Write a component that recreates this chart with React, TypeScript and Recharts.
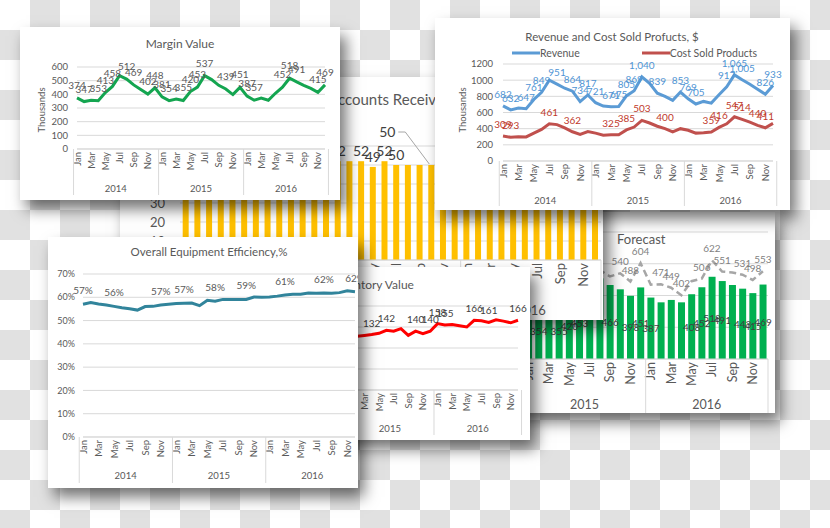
import React from 'react';
import { LineChart, Line, BarChart, Bar, ComposedChart, XAxis, YAxis, CartesianGrid, LabelList } from 'recharts';

const months = ['Jan', 'Feb', 'Mar', 'Apr', 'May', 'Jun', 'Jul', 'Aug', 'Sep', 'Oct', 'Nov', 'Dec'];
const years = ['2014', '2015', '2016'];

// Margin Value, thousands (also the green "actual" bars of the forecast card)
const marginValues = [
  374, 347, 357, 353, 413, 458, 537, 512, 469, 435, 402, 448,
  381, 354, 365, 355, 420, 453, 537, 508, 466, 439, 398, 451,
  387, 357, 372, 357, 408, 452, 518, 491, 466, 443, 415, 469,
];
const marginLabelIdx = [0, 1, 3, 4, 5, 7, 8, 10, 11, 12, 13, 15, 16, 17, 18, 21, 23, 24, 25, 29, 30, 31, 34, 35];
const marginTicks = [0, 100, 200, 300, 400, 500, 600];

// Revenue and cost of sold products, thousands
const revenueValues = [
  682, 632, 655, 647, 761, 849, 1000, 951, 900, 864, 734, 817,
  721, 680, 671, 675, 805, 869, 1040, 960, 839, 800, 750, 853,
  769, 705, 737, 716, 819, 917, 1065, 1005, 950, 889, 826, 933,
];
const revenueLabelIdx = [0, 1, 3, 4, 5, 7, 9, 10, 11, 12, 14, 15, 16, 17, 18, 20, 23, 24, 25, 29, 30, 31, 34, 35];
const costValues = [
  309, 293, 300, 298, 345, 390, 461, 450, 410, 362, 330, 365,
  345, 320, 325, 325, 385, 420, 503, 470, 430, 400, 360, 400,
  380, 345, 350, 359, 416, 460, 547, 514, 480, 440, 411, 465,
];
const costLabelIdx = [0, 1, 6, 9, 14, 16, 18, 21, 27, 28, 30, 31, 33, 34];
const revenueTicks = [0, 200, 400, 600, 800, 1000, 1200];

// Overall equipment efficiency
const oeeValues = [
  0.570, 0.577, 0.571, 0.567, 0.561, 0.555, 0.551, 0.545, 0.560, 0.561, 0.567, 0.570,
  0.573, 0.574, 0.575, 0.564, 0.587, 0.583, 0.591, 0.591, 0.591, 0.591, 0.601, 0.600,
  0.601, 0.605, 0.610, 0.613, 0.613, 0.618, 0.617, 0.618, 0.617, 0.620, 0.628, 0.624,
];
const oeeLabelIdx = [0, 4, 10, 13, 17, 21, 26, 31, 35];
const oeeTicks = [0, 0.1, 0.2, 0.3, 0.4, 0.5, 0.6, 0.7];

// Inventory value
const inventoryValues = [
  118, 120, 117, 121, 124, 126, 128, 125, 123, 126, 124, 128,
  126, 128, 130, 132, 135, 142, 140, 146, 130, 140, 134, 140,
  158, 155, 156, 153, 150, 166, 165, 161, 167, 164, 160, 166,
];
const inventoryLabelIdx = [15, 17, 21, 23, 24, 25, 29, 31, 35];
const inventoryTicks = [0, 50, 100, 150, 200];

// Forecast (dashed) against actual margin (bars)
const forecastValues = [
  420, 400, 405, 400, 460, 500, 580, 560, 510, 480, 450, 490,
  430, 400, 410, 400, 470, 500, 590, 560, 520, 540, 488, 604,
  468, 471, 449, 402, 490, 506, 622, 551, 545, 531, 498, 553,
];
const forecastLabelIdx = [21, 22, 23, 25, 26, 27, 29, 30, 31, 33, 34, 35];
const actualLabelIdx = [13, 15, 16, 17, 20, 22, 23, 24, 28, 29, 30, 31, 33, 34, 35];
const forecastTicks = [0, 200, 400, 600, 800];

// Accounts receivable, days
const receivableValues = [
  54, 53, 55, 52, 54, 53, 51, 53, 52, 50, 52, 51,
  53, 52, 52, 52, 49, 52, 50, 50, 50, 50, 45, 44,
  42, 43, 41, 40, 42, 39, 40, 38, 37, 39, 36, 38,
];
const receivableLabelIdx = [13, 15, 16, 17, 18, 21];
const receivableLeaderIdx = 21;
const receivableTicks = [0, 10, 20, 30, 40, 50, 60];

const FONT = 'Lato, "Open Sans", sans-serif';
const AXIS_TEXT = '#595959';
const GRID = '#d9d9d9';

const keyOf = (i: number) => `${months[i % 12]} ${years[Math.floor(i / 12)]}`;
const marginData = marginValues.map((v, i) => ({ key: keyOf(i), v }));
const revenueData = revenueValues.map((v, i) => ({ key: keyOf(i), revenue: v, cost: costValues[i] }));
const oeeData = oeeValues.map((v, i) => ({ key: keyOf(i), v }));
const inventoryData = inventoryValues.map((v, i) => ({ key: keyOf(i), v }));
const forecastData = forecastValues.map((f, i) => ({ key: keyOf(i), actual: marginValues[i], forecast: f }));
const receivableData = receivableValues.map((v, i) => ({ key: keyOf(i), v }));

type TickCfg = { band: number; font: number; yearDy: number; yearFont: number; sep: number };

// two level axis: every other month, then the year under a group of twelve
const makeMonthTick = (c: TickCfg) => (props: any) => {
  const { x, y, index } = props;
  const i = index as number;
  const half = c.band / 2;
  return (
    <g>
      {i % 2 === 0 && (
        <text transform={`translate(${x},${y + 3}) rotate(-90)`} textAnchor="end" dominantBaseline="central"
          fontSize={c.font} fill={AXIS_TEXT} fontFamily={FONT}>{months[i % 12]}</text>
      )}
      {i % 12 === 0 && <line x1={x - half} x2={x - half} y1={y} y2={y + c.sep} stroke={GRID} />}
      {i === 35 && <line x1={x + half} x2={x + half} y1={y} y2={y + c.sep} stroke={GRID} />}
      {i % 12 === 5 && (
        <text x={x + half} y={y + c.yearDy} textAnchor="middle" dominantBaseline="central"
          fontSize={c.yearFont} fill={AXIS_TEXT} fontFamily={FONT}>{years[Math.floor(i / 12)]}</text>
      )}
    </g>
  );
};

const pointLabel = (shown: number[], color: string, font: number, dy: number, fmt = (v: number) => String(v)) =>
  (p: any) => {
    if (!shown.includes(p.index)) return null;
    const x = p.x ?? p.viewBox?.x;
    const y = p.y ?? p.viewBox?.y;
    return <text x={x} y={y + dy} textAnchor="middle" fontSize={font} fill={color} fontFamily={FONT}>{fmt(Number(p.value))}</text>;
  };

const Card = ({ left, top, width, height, z, children }: any) => (
  <div style={{ position: 'absolute', left, top, width, height, background: '#fff', zIndex: z, overflow: 'hidden',
    boxShadow: '6px 9px 14px rgba(0,0,0,0.55)' }}>{children}</div>
);

const Title = ({ x, y, size, start, children }: any) => (
  <div style={{ position: 'absolute', left: x, top: y - size * 0.65, fontSize: size, color: AXIS_TEXT, whiteSpace: 'nowrap',
    lineHeight: 1.3, transform: start ? 'none' : 'translateX(-50%)', fontFamily: FONT, zIndex: 2 }}>{children}</div>
);

const Thousands = ({ x, y, size }: any) => (
  <div style={{ position: 'absolute', left: x, top: y, fontSize: size, color: AXIS_TEXT, whiteSpace: 'nowrap', lineHeight: 1,
    transform: 'translate(-50%,-50%) rotate(-90deg)', fontFamily: FONT }}>Thousands</div>
);

const yTick = (size: number) => ({ fontSize: size, fill: AXIS_TEXT, fontFamily: FONT });
const fmtThousands = (v: number) => v.toLocaleString('en-US');
const fmtPct = (v: number) => `${Math.round(v * 100)}%`;

export default function App() {
  return (
    <div style={{ position: 'absolute', left: 0, top: 0, width: 830, height: 528, overflow: 'hidden', fontFamily: FONT,
      background: 'conic-gradient(#e1e1e1 0 25%, #fff 0 50%, #e1e1e1 0 75%, #fff 0) 0 0 / 60px 60px' }}>

      <Card left={360} top={212} width={415} height={201} z={1}>
        <Title x={257} y={27} size={13} start>Forecast</Title>
        <ComposedChart width={415} height={201} data={forecastData} margin={{ top: 20, right: 7, bottom: 0, left: 41 }} barCategoryGap="17%">
          <CartesianGrid vertical={false} stroke={GRID} />
          <XAxis dataKey="key" interval={0} tickLine={false} tickSize={0} tickMargin={0} height={54} axisLine={{ stroke: GRID }}
            tick={makeMonthTick({ band: 367 / 36, font: 12.5, yearDy: 45, yearFont: 12.5, sep: 54 })} />
          <YAxis hide domain={[0, 800]} ticks={forecastTicks} />
          <Bar dataKey="actual" fill="#00b050" isAnimationActive={false}>
            <LabelList dataKey="actual" content={(p: any) => {
              if (!actualLabelIdx.includes(p.index)) return null;
              const x = p.x ?? p.viewBox?.x; const y = p.y ?? p.viewBox?.y;
              const w = p.width ?? p.viewBox?.width; const h = p.height ?? p.viewBox?.height;
              return <text x={x + w / 2} y={y + h / 2 + 4} textAnchor="middle" fontSize={10} fill="#404040" fontFamily={FONT}>{p.value}</text>;
            }} />
          </Bar>
          <Line dataKey="forecast" stroke="#a6a6a6" strokeWidth={2.5} strokeDasharray="7 4" dot={false} isAnimationActive={false}>
            <LabelList dataKey="forecast" content={pointLabel(forecastLabelIdx, '#7f7f7f', 10, -8)} />
          </Line>
        </ComposedChart>
      </Card>

      <Card left={120} top={77} width={483} height={243} z={2}>
        <Title x={208} y={23} size={15} start>Accounts Receivable</Title>
        <BarChart width={483} height={243} data={receivableData} margin={{ top: 69, right: 2, bottom: 0, left: 10 }} barCategoryGap="23%">
          <CartesianGrid vertical={false} stroke={GRID} />
          <XAxis dataKey="key" interval={0} tickLine={false} tickSize={0} tickMargin={0} height={60} axisLine={{ stroke: GRID }}
            tick={makeMonthTick({ band: 421 / 36, font: 13, yearDy: 50, yearFont: 13, sep: 60 })} />
          <YAxis domain={[0, 60]} ticks={receivableTicks} interval={0} width={50} tickLine={false} axisLine={false} tickSize={0} tickMargin={15} tick={yTick(13)} />
          <Bar dataKey="v" fill="#ffc000" isAnimationActive={false}>
            <LabelList dataKey="v" content={(p: any) => {
              if (!receivableLabelIdx.includes(p.index)) return null;
              const x = p.x ?? p.viewBox?.x; const y = p.y ?? p.viewBox?.y;
              const w = p.width ?? p.viewBox?.width;
              const cx = x + w / 2;
              if (p.index === receivableLeaderIdx) {
                return (
                  <g>
                    <line x1={cx - 26} y1={y - 33} x2={cx - 2} y2={y - 1} stroke="#a6a6a6" />
                    <line x1={cx - 33} y1={y - 33} x2={cx - 26} y2={y - 33} stroke="#a6a6a6" />
                    <text x={cx - 44} y={y - 28} textAnchor="middle" fontSize={14} fill="#404040" fontFamily={FONT}>{p.value}</text>
                  </g>
                );
              }
              return <text x={cx} y={y - 5} textAnchor="middle" fontSize={14} fill="#404040" fontFamily={FONT}>{p.value}</text>;
            }} />
          </Bar>
        </BarChart>
      </Card>

      <Card left={190} top={267} width={340} height={173} z={3}>
        <Title x={183} y={18} size={12}>Inventory Value</Title>
        <LineChart width={340} height={173} data={inventoryData} margin={{ top: 39, right: 12, bottom: 5, left: 32 }}>
          <CartesianGrid vertical={false} stroke={GRID} />
          <XAxis dataKey="key" interval={0} tickLine={false} tickSize={0} tickMargin={0} height={45} axisLine={{ stroke: GRID }}
            tick={makeMonthTick({ band: 256 / 36, font: 9.5, yearDy: 38, yearFont: 9.5, sep: 45 })} />
          <YAxis domain={[0, 200]} ticks={inventoryTicks} interval={0} width={40} tickLine={false} axisLine={false} tickSize={0} tickMargin={8} tick={yTick(9.5)} />
          <Line dataKey="v" stroke="#ff0000" strokeWidth={3} dot={false} isAnimationActive={false}>
            <LabelList dataKey="v" content={pointLabel(inventoryLabelIdx, '#404040', 10, -8)} />
          </Line>
        </LineChart>
      </Card>

      <Card left={48} top={237} width={310} height={251} z={4}>
        <Title x={161} y={15} size={11.5}>Overall Equipment Efficiency,%</Title>
        <LineChart width={322} height={251} data={oeeData} margin={{ top: 37, right: 15, bottom: 5, left: 5 }}>
          <CartesianGrid vertical={false} stroke={GRID} />
          <XAxis dataKey="key" interval={0} tickLine={false} tickSize={0} tickMargin={0} height={46} axisLine={{ stroke: GRID }}
            tick={makeMonthTick({ band: 272 / 36, font: 9.5, yearDy: 38, yearFont: 9.5, sep: 46 })} />
          <YAxis domain={[0, 0.7]} ticks={oeeTicks} interval={0} width={30} tickLine={false} axisLine={false} tickSize={0} tickMargin={8}
            tick={yTick(9)} tickFormatter={fmtPct} />
          <Line dataKey="v" stroke="#31849b" strokeWidth={3} dot={false} isAnimationActive={false}>
            <LabelList dataKey="v" content={pointLabel(oeeLabelIdx, '#595959', 10, -10, fmtPct)} />
          </Line>
        </LineChart>
      </Card>

      <Card left={20} top={27} width={320} height={173} z={4}>
        <Title x={160} y={17} size={12}>Margin Value</Title>
        <Thousands x={22} y={83} size={9.5} />
        <LineChart width={320} height={173} data={marginData} margin={{ top: 40, right: 15, bottom: 5, left: 20 }}>
          <CartesianGrid vertical={false} stroke={GRID} />
          <XAxis dataKey="key" interval={0} tickLine={false} tickSize={0} tickMargin={0} height={46} axisLine={{ stroke: GRID }}
            tick={makeMonthTick({ band: 248 / 36, font: 9.5, yearDy: 39, yearFont: 9.5, sep: 46 })} />
          <YAxis domain={[0, 600]} ticks={marginTicks} interval={0} width={37} tickLine={false} axisLine={false} tickSize={0} tickMargin={9} tick={yTick(9.5)} />
          <Line dataKey="v" stroke="#14a550" strokeWidth={3} dot={false} isAnimationActive={false}>
            <LabelList dataKey="v" content={pointLabel(marginLabelIdx, '#595959', 10, -9)} />
          </Line>
        </LineChart>
      </Card>

      <Card left={435} top={18} width={355} height={192} z={4}>
        <Title x={177} y={19} size={11.5}>Revenue and Cost Sold Profucts, $</Title>
        <Thousands x={28} y={92} size={9.5} />
        <div style={{ position: 'absolute', left: 77, top: 29, display: 'flex', alignItems: 'center', fontSize: 10.5, color: AXIS_TEXT, zIndex: 2 }}>
          <svg width={28} height={6}><line x1={0} x2={28} y1={3} y2={3} stroke="#5b9bd5" strokeWidth={3} /></svg>
          <span style={{ marginRight: 62 }}>Revenue</span>
          <svg width={28} height={6}><line x1={0} x2={28} y1={3} y2={3} stroke="#c0504d" strokeWidth={3} /></svg>
          <span>Cost Sold Products</span>
        </div>
        <LineChart width={355} height={192} data={revenueData} margin={{ top: 46, right: 17, bottom: 4, left: 30 }}>
          <CartesianGrid vertical={false} stroke={GRID} />
          <XAxis dataKey="key" interval={0} tickLine={false} tickSize={0} tickMargin={0} height={45} axisLine={{ stroke: GRID }}
            tick={makeMonthTick({ band: 270 / 36, font: 9.5, yearDy: 39, yearFont: 9.5, sep: 45 })} />
          <YAxis domain={[0, 1200]} ticks={revenueTicks} interval={0} width={38} tickLine={false} axisLine={false} tickSize={0} tickMargin={10} tick={yTick(9.5)} />
          <Line dataKey="revenue" stroke="#5b9bd5" strokeWidth={3} dot={false} isAnimationActive={false}>
            <LabelList dataKey="revenue" content={pointLabel(revenueLabelIdx, '#4f94d4', 10, -8, fmtThousands)} />
          </Line>
          <Line dataKey="cost" stroke="#c0504d" strokeWidth={3} dot={false} isAnimationActive={false}>
            <LabelList dataKey="cost" content={pointLabel(costLabelIdx, '#c0392b', 10, -8)} />
          </Line>
        </LineChart>
      </Card>
    </div>
  );
}
